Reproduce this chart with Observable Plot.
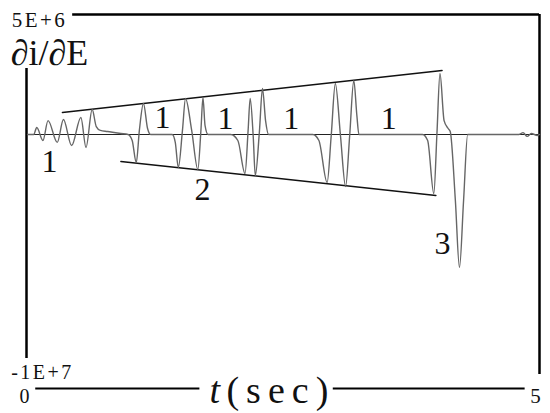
<!DOCTYPE html>
<html>
<head>
<meta charset="utf-8">
<script src="https://cdn.jsdelivr.net/npm/d3@7"></script>
<script src="https://cdn.jsdelivr.net/npm/@observablehq/plot@0.6"></script>
<style>
  html, body { margin: 0; padding: 0; background: #fff; }
  #chart svg { display: block; overflow: visible; }
</style>
</head>
<body>
<div id="chart"></div>
<script>
// ---- data ----
const signalT = [0.01,0.07,0.10,0.16,0.21,0.30,0.36,0.44,0.53,0.58,0.64,0.68,0.72,0.79,0.92,0.99,
  1.03,1.07,1.10,1.14,1.18,1.21,
  1.42,1.45,1.48,1.52,1.55,1.61,1.67,1.70,1.72,1.74,1.77,
  1.99,2.06,2.13,2.16,2.18,2.21,2.23,2.27,2.30,2.33,2.36,
  2.79,2.85,2.93,2.97,3.01,3.06,3.11,3.15,3.19,3.22,3.24,
  3.86,3.91,3.97,4.00,4.03,4.07,4.11,4.13,4.18,4.22,4.26,4.30,
  4.80,4.84,4.88,4.92,4.98,5.00];
const signalV = [0,0,2.9e5,-2.5e5,5.8e5,-3.3e5,6.25e5,-4.6e5,7.1e5,-5.4e5,1.04e6,3.3e5,1.7e5,1.25e5,4e4,0,
  -2.5e5,-1.17e6,1.7e5,1.29e6,2.5e5,0,
  0,-3.3e5,-1.375e6,1.7e5,1.5e6,1.7e5,-1.46e6,1.7e5,1.54e6,3.8e5,0,
  0,-2.5e5,-1.625e6,1.7e5,1.5e6,-1e5,-1.71e6,1.2e5,1.92e6,5.8e5,0,
  0,-2.5e5,-2.0e6,-4e4,2.125e6,-4e4,-2.17e6,-4e4,2.25e6,7.9e5,0,
  0,-2.5e5,-2.46e6,0,2.54e6,5.8e5,2.5e5,1.25e5,-2.75e6,-5.54e6,-2.75e6,0,
  0,8e4,-8e4,4e4,-4e4,0];

const upperT = [0.35, 4.05];
const upperV = [9.17e5, 2.67e6];
const lowerT = [0.92, 3.99];
const lowerV = [-1.125e6, -2.54e6];

const labelText = ["1","1","1","1","1","2","3"];
const labelT = [0.224, 1.326, 1.94, 2.58, 3.53, 1.715, 4.055];
const labelV = [-1.125e6, 7.08e5, 6.67e5, 6.67e5, 6.67e5, -2.29e6, -4.54e6];

const xDomain = [0, 5];
const yDomain = [-1e7, 5e6];
const xTickLabels = ["0", "5"];
const yTickLabels = ["-1E+7", "5E+6"];
const yTitle = "∂i/∂E";
const xTitleVar = "t";
const xTitleUnit = "(sec)";
const axisLineV = -1.058e7;

// ---- tables ----
const signal = signalT.map((t, i) => ({t, v: signalV[i]}));
const upper = upperT.map((t, i) => ({t, v: upperV[i]}));
const lower = lowerT.map((t, i) => ({t, v: lowerV[i]}));
const labels = labelText.map((s, i) => ({s, t: labelT[i], v: labelV[i]}));

const serif = "'Liberation Serif', 'Times New Roman', serif";

const plot = Plot.plot({
  width: 550,
  height: 413,
  marginTop: 14,
  marginBottom: 39,
  marginLeft: 26,
  marginRight: 11,
  x: {domain: xDomain, axis: null},
  y: {domain: yDomain, axis: null},
  style: {fontFamily: serif, background: "#fff"},
  marks: [
    // frame
    Plot.ruleY([yDomain[1]], {x1: 0.45, x2: xDomain[1], stroke: "#000", strokeWidth: 2.5}),
    Plot.ruleX([xDomain[1]], {y1: yDomain[0], y2: yDomain[1], stroke: "#000", strokeWidth: 2.5}),
    Plot.ruleX([xDomain[0]], {y1: -9.33e6, y2: 2.75e6, stroke: "#000", strokeWidth: 2.5}),
    Plot.ruleY([axisLineV], {x1: 0.09, x2: 1.69, stroke: "#000", strokeWidth: 2}),
    Plot.ruleY([axisLineV], {x1: 2.99, x2: 4.86, stroke: "#000", strokeWidth: 2}),
    // zero baseline
    Plot.ruleY([0], {x1: 0.01, x2: 5, stroke: "#222", strokeWidth: 1}),
    // envelopes
    Plot.line(upper, {x: "t", y: "v", stroke: "#111", strokeWidth: 1.5}),
    Plot.line(lower, {x: "t", y: "v", stroke: "#111", strokeWidth: 1.5}),
    // signal
    Plot.line(signal, {x: "t", y: "v", stroke: "#666", strokeWidth: 1.4, curve: "monotone-x"}),
    // region labels
    Plot.text(labels, {x: "t", y: "v", text: "s", fontSize: 32, fill: "#111", lineAnchor: "middle"}),
    // tick labels
    Plot.text([yTickLabels[1]], {x: xDomain[0], y: yDomain[1], dx: 13, dy: 6, fontSize: 21, fill: "#111", lineAnchor: "middle"}),
    Plot.text([yTickLabels[0]], {x: xDomain[0], y: yDomain[0], dx: 16, dy: -2, fontSize: 20, fill: "#111", lineAnchor: "middle"}),
    Plot.text([xTickLabels[0]], {x: xDomain[0], y: yDomain[0], dx: -2, dy: 22, fontSize: 20, fill: "#111", lineAnchor: "middle"}),
    Plot.text([xTickLabels[1]], {x: xDomain[1], y: yDomain[0], dx: -4, dy: 22, fontSize: 21, fill: "#111", lineAnchor: "middle"}),
    // axis titles
    Plot.text([yTitle], {x: xDomain[0], y: yDomain[1], dx: 23, dy: 39, fontSize: 36, fill: "#111", lineAnchor: "middle"}),
    Plot.text([xTitleVar], {x: 1.784, y: yDomain[0], dy: 16, fontSize: 38, fontStyle: "italic", fill: "#111", textAnchor: "start", lineAnchor: "middle"}),
    Plot.text([xTitleUnit], {x: 1.949, y: yDomain[0], dy: 16, fontSize: 38, fill: "#111", textAnchor: "start", lineAnchor: "middle"})
  ]
});

d3.select(plot).selectAll("text").filter(function() { return this.textContent === xTitleUnit; })
  .attr("letter-spacing", 7);
d3.select(plot).selectAll("text").filter(function() { return this.textContent === yTickLabels[0] || this.textContent === yTickLabels[1]; })
  .attr("letter-spacing", 2.5);

document.getElementById("chart").appendChild(plot);
</script>
</body>
</html>
